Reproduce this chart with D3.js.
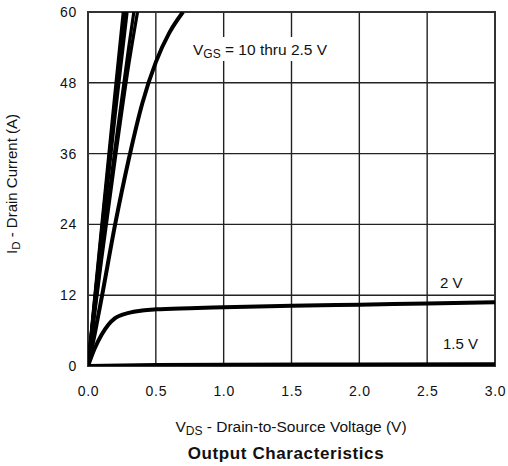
<!DOCTYPE html>
<html><head><meta charset="utf-8">
<script src="https://cdn.jsdelivr.net/npm/d3@7"></script>
<style>body{margin:0;background:#fff}svg{font-family:"Liberation Sans",Arial,sans-serif}</style>
</head><body><svg id="c" width="508" height="466"></svg>
<script>
const xTicks = [0, 0.5, 1.0, 1.5, 2.0, 2.5, 3.0];
const yTicks = [0, 12, 24, 36, 48, 60];
const vgs10 = [[0,0],[0.1,23.5],[0.2,46.5],[0.26,60]];
const vgs8  = [[0,0],[0.1,22.8],[0.2,45.2],[0.268,60]];
const vgs6  = [[0,0],[0.1,22],[0.2,43.8],[0.278,60]];
const vgs5  = [[0,0],[0.1,21.2],[0.2,42.5],[0.288,60]];
const vgs4  = [[0,0],[0.1,19],[0.2,37],[0.3,54],[0.338,60]];
const vgs3  = [[0,0],[0.1,18],[0.2,35],[0.3,51],[0.365,60]];
const vgs25 = [[0,0],[0.05,5.5],[0.1,11.5],[0.2,24],[0.3,35],[0.4,44.5],[0.5,51.5],[0.6,56.5],[0.7,60]];
const vgs2  = [[0,0],[0.05,3],[0.1,5.3],[0.15,7],[0.2,8.1],[0.3,9],[0.4,9.4],[0.5,9.6],[0.75,9.8],[1.0,9.95],[1.5,10.2],[2.0,10.4],[2.5,10.6],[3.0,10.8]];
const vgs15 = [[0,0],[0.5,0.15],[1.0,0.2],[2.0,0.25],[3.0,0.3]];
const series = [vgs10, vgs8, vgs6, vgs5, vgs4, vgs3, vgs25, vgs2, vgs15];

const svg = d3.select("#c");
const L=88, R=495, T=12, B=366;
const x = d3.scaleLinear().domain([0,3]).range([L,R]);
const y = d3.scaleLinear().domain([0,60]).range([B,T]);

// grid
svg.append("g").selectAll("line").data(xTicks).join("line")
  .attr("x1",d=>x(d)).attr("x2",d=>x(d)).attr("y1",T).attr("y2",B)
  .attr("stroke","#222").attr("stroke-width",1.4);
svg.append("g").selectAll("line").data(yTicks).join("line")
  .attr("y1",d=>y(d)).attr("y2",d=>y(d)).attr("x1",L).attr("x2",R)
  .attr("stroke","#222").attr("stroke-width",1.4);
svg.append("rect").attr("x",L).attr("y",T).attr("width",R-L).attr("height",B-T)
  .attr("fill","none").attr("stroke","#333").attr("stroke-width",2);

// axes labels via d3 axes
const xa = svg.append("g").attr("transform",`translate(0,${B})`)
  .call(d3.axisBottom(x).tickValues(xTicks).tickFormat(d3.format(".1f")).tickSize(0).tickPadding(20));
const ya = svg.append("g").attr("transform",`translate(${L},0)`)
  .call(d3.axisLeft(y).tickValues(yTicks).tickSize(0).tickPadding(11));
[xa,ya].forEach(a=>{a.select(".domain").remove();
  a.selectAll("text").attr("font-size",14).attr("letter-spacing",0.7).attr("fill","#111")
   .attr("font-family","Liberation Sans, Arial, sans-serif");});

// curves
svg.append("clipPath").attr("id","pc").append("rect")
  .attr("x",L).attr("y",T).attr("width",R-L).attr("height",B-T);
const line = d3.line().x(d=>x(d[0])).y(d=>y(d[1])).curve(d3.curveMonotoneX);
svg.append("g").attr("clip-path","url(#pc)").selectAll("path").data(series).join("path")
  .attr("d",line).attr("fill","none").attr("stroke","#000")
  .attr("stroke-width",(d,i)=>i<6?3.2:4).attr("stroke-linejoin","round");

// annotations
const ann = svg.append("g");
ann.append("rect").attr("x",190).attr("y",37).attr("width",145).attr("height",24).attr("fill","#fff");
const t1 = ann.append("text").attr("x",193).attr("y",55).attr("font-size",15.5).attr("fill","#111");
t1.append("tspan").text("V");
t1.append("tspan").attr("font-size",12).attr("dy",3).text("GS");
t1.append("tspan").attr("dy",-3).text(" = 10 thru 2.5 V");
svg.append("text").attr("x",440).attr("y",288).attr("font-size",15).attr("fill","#111").text("2 V");
svg.append("text").attr("x",443).attr("y",349).attr("font-size",15).attr("fill","#111").text("1.5 V");

// axis titles
const xt = svg.append("text").attr("x",291).attr("y",432).attr("text-anchor","middle").attr("font-size",15.5).attr("fill","#111");
xt.append("tspan").text("V");
xt.append("tspan").attr("font-size",12).attr("dy",3).text("DS");
xt.append("tspan").attr("dy",-3).text(" - Drain-to-Source Voltage (V)");
svg.append("text").attr("x",286).attr("y",459).attr("text-anchor","middle").attr("font-size",17)
  .attr("letter-spacing",0.6).attr("font-weight","bold").attr("fill","#111").text("Output Characteristics");
const yt = svg.append("text").attr("transform",`translate(17,${(T+B)/2 - 5}) rotate(-90)`)
  .attr("text-anchor","middle").attr("font-size",15).attr("fill","#111");
yt.append("tspan").text("I");
yt.append("tspan").attr("font-size",11.5).attr("dy",3).text("D");
yt.append("tspan").attr("dy",-3).text(" - Drain Current (A)");
</script></body></html>
